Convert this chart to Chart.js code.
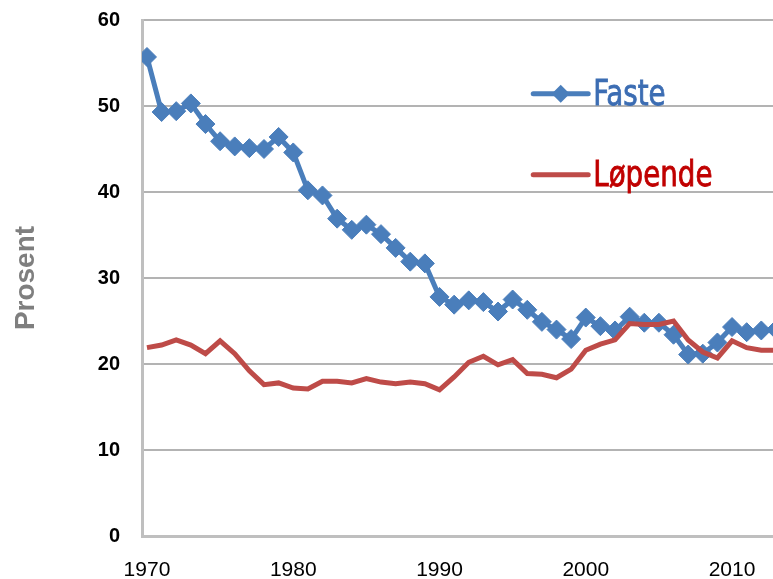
<!DOCTYPE html>
<html>
<head>
<meta charset="utf-8">
<script src="https://cdn.jsdelivr.net/npm/chart.js@4/dist/chart.umd.min.js"></script>
<style>
  html, body { margin: 0; padding: 0; background: #fff; }
  canvas { display: block; }
</style>
</head>
<body>
<canvas id="chart" width="773" height="579"></canvas>
<script>
const years = [
  1970, 1971, 1972, 1973, 1974, 1975, 1976, 1977, 1978, 1979,
  1980, 1981, 1982, 1983, 1984, 1985, 1986, 1987, 1988, 1989,
  1990, 1991, 1992, 1993, 1994, 1995, 1996, 1997, 1998, 1999,
  2000, 2001, 2002, 2003, 2004, 2005, 2006, 2007, 2008, 2009,
  2010, 2011, 2012, 2013
];

const faste = [
  55.7, 49.3, 49.4, 50.3, 47.9, 45.9, 45.3, 45.1, 45.0, 46.4,
  44.6, 40.2, 39.6, 36.9, 35.6, 36.2, 35.1, 33.5, 31.9, 31.7,
  27.8, 26.9, 27.4, 27.2, 26.1, 27.5, 26.3, 24.9, 24.0, 22.9,
  25.4, 24.4, 23.9, 25.5, 24.8, 24.8, 23.4, 21.1, 21.2, 22.5,
  24.3, 23.7, 23.9, 24.0
];

const lopende = [
  21.9, 22.2, 22.8, 22.2, 21.2, 22.7, 21.2, 19.2, 17.6, 17.8,
  17.2, 17.1, 18.0, 18.0, 17.8, 18.3, 17.9, 17.7, 17.9, 17.7,
  17.0, 18.5, 20.2, 20.9, 19.9, 20.5, 18.9, 18.8, 18.4, 19.4,
  21.6, 22.3, 22.8, 24.7, 24.6, 24.6, 25.0, 22.8, 21.4, 20.7,
  22.7, 21.9, 21.6, 21.6
];

const xTicks = [1970, 1980, 1990, 2000, 2010];
const yTicks = [0, 10, 20, 30, 40, 50, 60];

const blue = '#4a7ebb';
const red = '#be4b48';

const toPoints = (vals) => years.map((yr, i) => ({ x: yr, y: vals[i] }));

// legend drawn inside the plot, to the right
const insideLegend = {
  id: 'insideLegend',
  afterDraw(chart) {
    const ctx = chart.ctx;
    const area = chart.chartArea;
    const x0 = area.left + area.width * 0.62;
    const x1 = x0 + 55;
    const rows = [
      { text: 'Faste', line: blue, textColor: '#3c6db3', marker: true, y: area.top + area.height * 0.143 },
      { text: 'Løpende', line: red, textColor: '#c00000', marker: false, y: area.top + area.height * 0.30 }
    ];
    ctx.save();
    rows.forEach(r => {
      ctx.strokeStyle = r.line;
      ctx.lineWidth = 5;
      ctx.lineCap = 'round';
      ctx.beginPath();
      ctx.moveTo(x0, r.y);
      ctx.lineTo(x1, r.y);
      ctx.stroke();
      if (r.marker) {
        const cx = (x0 + x1) / 2;
        ctx.fillStyle = r.line;
        ctx.beginPath();
        ctx.moveTo(cx, r.y - 9);
        ctx.lineTo(cx + 9, r.y);
        ctx.lineTo(cx, r.y + 9);
        ctx.lineTo(cx - 9, r.y);
        ctx.closePath();
        ctx.fill();
      }
      ctx.save();
      ctx.translate(x1 + 5, r.y + 11);
      ctx.scale(0.88, 1);
      ctx.fillStyle = r.textColor;
      ctx.strokeStyle = r.textColor;
      ctx.lineWidth = 0.8;
      ctx.font = '35px "Liberation Sans Narrow", "DejaVu Sans Condensed", sans-serif';
      ctx.textBaseline = 'alphabetic';
      ctx.textAlign = 'left';
      ctx.fillText(r.text, 0, 0);
      ctx.strokeText(r.text, 0, 0);
      ctx.restore();
    });
    ctx.restore();
  }
};

new Chart(document.getElementById('chart'), {
  type: 'line',
  data: {
    datasets: [
      {
        label: 'Løpende',
        data: toPoints(lopende),
        borderColor: red,
        borderWidth: 5,
        pointRadius: 0,
        tension: 0,
        order: 0
      },
      {
        label: 'Faste',
        data: toPoints(faste),
        borderColor: blue,
        backgroundColor: blue,
        borderWidth: 5,
        pointStyle: 'rectRot',
        pointRadius: 9.5,
        pointBorderWidth: 1,
        pointBorderColor: blue,
        pointBackgroundColor: blue,
        tension: 0,
        order: 1
      }
    ]
  },
  options: {
    responsive: false,
    animation: false,
    layout: { autoPadding: false, padding: { top: 20, right: 0, left: 0, bottom: 0 } },
    plugins: {
      legend: { display: false },
      tooltip: { enabled: false }
    },
    scales: {
      x: {
        type: 'linear',
        min: 1969.66,
        max: 2012.8,
        afterBuildTicks: (scale) => { scale.ticks = xTicks.map(v => ({ value: v })); },
        afterFit: (scale) => {
          scale.height = 43;
          scale.paddingLeft = 0;
          scale.paddingRight = 0;
        },
        grid: { display: false, drawTicks: false },
        border: { display: true, color: '#bfbfbf', width: 3 },
        ticks: {
          padding: 22,
          maxRotation: 0,
          color: '#000',
          font: { family: '"Liberation Sans", Arial, sans-serif', size: 21 },
          callback: (v) => String(v)
        }
      },
      y: {
        min: 0,
        max: 60,
        afterBuildTicks: (scale) => { scale.ticks = yTicks.map(v => ({ value: v })); },
        afterFit: (scale) => {
          scale.width = 142;
          scale.paddingTop = 0;
          scale.paddingBottom = 0;
        },
        grid: { color: '#b3b3b3', lineWidth: 2, drawTicks: false },
        border: { display: true, color: '#bfbfbf', width: 3 },
        ticks: {
          padding: 22,
          color: '#000',
          font: { family: '"Liberation Sans", Arial, sans-serif', size: 20, weight: 'bold' }
        },
        title: {
          display: true,
          text: 'Prosent',
          color: '#7f7f7f',
          padding: { top: 9, bottom: 0 },
          font: { family: '"Liberation Sans", Arial, sans-serif', size: 28, weight: 'bold' }
        }
      }
    }
  },
  plugins: [insideLegend]
});
</script>
</body>
</html>
